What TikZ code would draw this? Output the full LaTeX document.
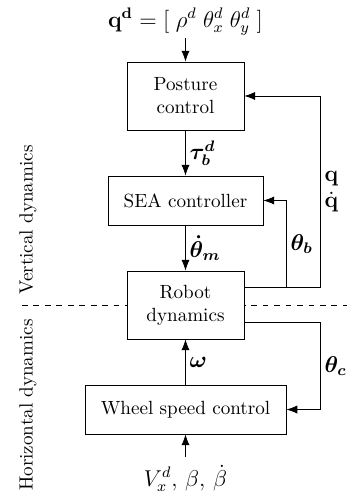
\documentclass[tikz,border=0pt]{standalone}
\usepackage{amsmath,amssymb,bm}
\usepackage{tikz}
\usetikzlibrary{arrows.meta,calc,positioning}

\begin{document}
\begin{tikzpicture}[
      x=1cm,y=1cm,
      block/.style={draw,fill=white,align=center,inner sep=2pt},
      flow/.style={-{Latex[length=2mm,width=1.5mm]}},
      sig/.style={inner sep=2pt,font=\large},
      region/.style={rotate=90,font=\normalsize}
    ]
      \useasboundingbox (0,0) rectangle (6.385,9.163);

      % horizontal / vertical split
      \draw[dashed] (0.405,3.551) -- (6.385,3.551);
      \node[region] (vert) at (0.515,5.115) {Vertical dynamics};
      \node[region] (horz) at (0.515,1.711) {Horizontal dynamics};

      \node[block,minimum width=2.15cm,minimum height=1.25cm] (posture)
        at (3.413,7.397) {Posture\\control};
      \node[block,minimum width=2.85cm,minimum height=0.9cm] (sea)
        at (3.413,5.474) {SEA controller};
      \node[block,minimum width=2.15cm,minimum height=1.25cm] (robot)
        at (3.413,3.551) {Robot\\dynamics};
      \node[block,minimum width=3.7cm,minimum height=0.9cm] (wheel)
        at (3.413,1.628) {Wheel speed control};

      \node[inner sep=1pt,font=\large] (qdes) at (3.413,8.76)
        {$\mathbf{q}^{\mathbf{d}} = [\;\rho^d\;\theta_x^d\;\theta_y^d\;]$};
      \node[inner sep=1pt,font=\large] (vdes) at (3.413,0.36)
        {$V_x^d,\,\beta,\,\dot{\beta}$};

      \draw[flow] (qdes) -- (posture);
      \draw[flow] (posture) -- node[sig,right] {$\bm{\tau_b^d}$} (sea);
      \draw[flow] (sea) -- node[sig,right] {$\bm{\dot{\theta}_m}$} (robot);
      \draw[flow] (wheel) -- node[sig,right] {$\bm{\omega}$} (robot);
      \draw[flow] ([yshift=0.1cm]vdes.north) -- (wheel);

      % feedback
      \coordinate (qtap) at ([yshift=-0.31cm]robot.north east);
      \coordinate (btap) at ([xshift=0.774cm]qtap);
      \coordinate (ctap) at ([yshift=0.31cm]robot.south east);
      \draw[flow] (qtap) -- ++(1.4,0) |-
        node[sig,pos=0.25,right,align=left] {$\mathbf{q}$\\$\dot{\mathbf{q}}$} (posture.east);
      \draw[flow] (btap) |-
        node[sig,pos=0.25,right] {$\bm{\theta_b}$} (sea.east);
      \draw[flow] (ctap) -- ++(1.4,0) |-
        node[sig,pos=0.25,right] {$\bm{\theta_c}$} (wheel.east);
    \end{tikzpicture}
\end{document}
